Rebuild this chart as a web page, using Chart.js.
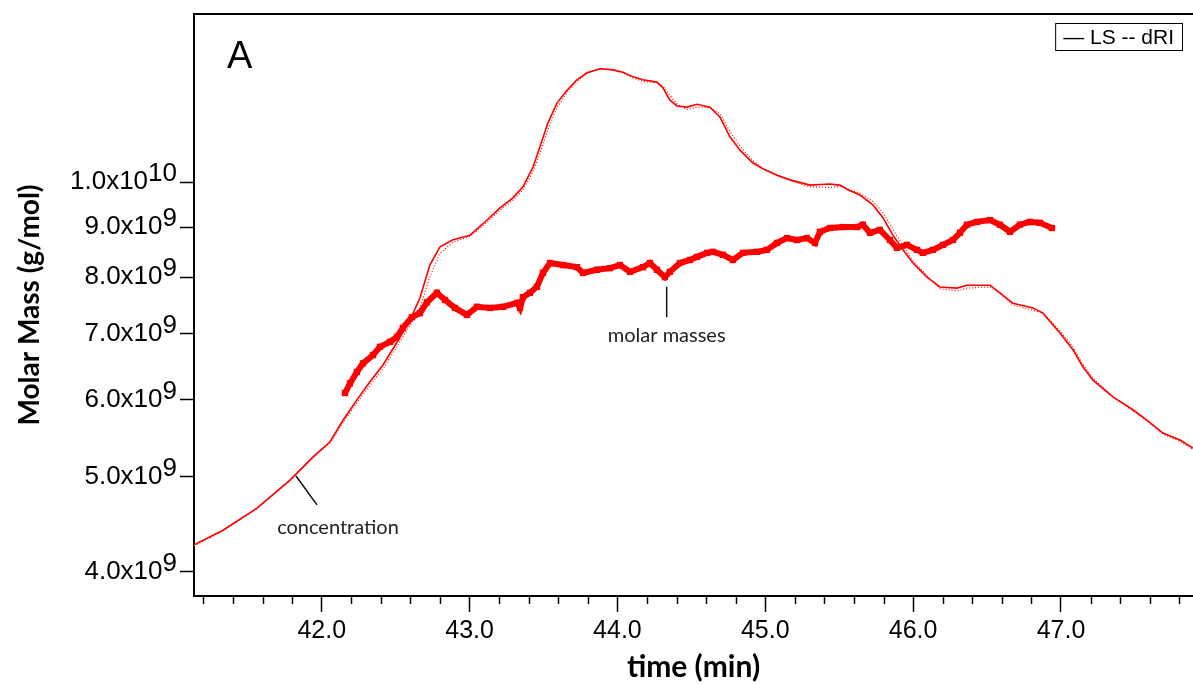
<!DOCTYPE html>
<html>
<head>
<meta charset="utf-8">
<script src="https://cdn.jsdelivr.net/npm/chart.js@4.4.1/dist/chart.umd.min.js"></script>
<style>
  html, body { margin: 0; padding: 0; background: #fff; overflow: hidden; }
  #wrap { width: 1193px; height: 684px; }
</style>
</head>
<body>
<div id="wrap"><canvas id="massChart"></canvas></div>
<script>
// detector traces (relative signal, hidden axis 0-100)
var timeLS = [41.136, 41.332, 41.562, 41.785, 41.941, 42.056, 42.144, 42.238, 42.326, 42.414,
  42.509, 42.597, 42.664, 42.732, 42.800, 42.888, 43.003, 43.118, 43.206, 43.293,
  43.361, 43.429, 43.476, 43.530, 43.591, 43.659, 43.726, 43.794, 43.882, 43.970,
  44.037, 44.105, 44.173, 44.267, 44.308, 44.355, 44.403, 44.470, 44.538, 44.626,
  44.693, 44.761, 44.829, 44.917, 44.984, 45.079, 45.167, 45.302, 45.437, 45.505,
  45.552, 45.640, 45.728, 45.796, 45.863, 45.931, 45.999, 46.094, 46.181, 46.296,
  46.364, 46.520, 46.587, 46.675, 46.810, 46.878, 46.993, 47.081, 47.148, 47.216,
  47.351, 47.487, 47.581, 47.690, 47.805, 47.893];
var ls = [8.8, 11.3, 15.1, 19.9, 23.9, 26.5, 30.2, 33.7, 36.8, 39.7,
  43.6, 47.4, 51.2, 56.9, 60.0, 61.2, 62.0, 64.6, 66.7, 68.4,
  70.3, 73.7, 77.2, 81.3, 84.7, 86.9, 88.7, 89.9, 90.6, 90.4,
  90.0, 89.2, 88.7, 88.3, 87.3, 85.2, 84.2, 84.0, 84.5, 84.0,
  82.3, 78.9, 76.6, 74.4, 73.4, 72.3, 71.5, 70.6, 70.8, 70.6,
  69.9, 68.9, 67.2, 65.0, 62.0, 59.5, 57.2, 54.8, 53.1, 52.9,
  53.4, 53.4, 52.1, 50.3, 49.5, 48.6, 45.2, 42.3, 39.4, 37.1,
  34.2, 32.0, 30.2, 28.0, 26.8, 25.4];
var dri = [8.6, 11.2, 15.0, 19.8, 23.7, 26.3, 29.8, 33.2, 36.2, 39.0,
  42.9, 46.5, 49.6, 54.9, 58.9, 60.8, 61.8, 64.2, 66.3, 68.0,
  69.8, 72.9, 76.0, 80.2, 83.9, 86.5, 88.4, 89.8, 90.6, 90.4,
  89.9, 89.0, 88.4, 88.2, 87.6, 86.0, 84.5, 83.6, 84.0, 83.9,
  82.9, 79.8, 77.3, 74.8, 73.5, 72.3, 71.4, 70.3, 70.2, 70.4,
  70.0, 69.2, 67.8, 65.9, 63.0, 60.2, 57.6, 55.0, 52.8, 52.4,
  52.9, 53.1, 52.0, 50.0, 49.1, 48.6, 45.6, 42.8, 39.8, 37.4,
  34.3, 31.8, 30.1, 27.8, 26.6, 25.2];

// molar masses (g/mol)
var timeMM = [42.157, 42.191, 42.238, 42.279, 42.347, 42.394, 42.462, 42.509, 42.549, 42.610,
  42.664, 42.712, 42.779, 42.834, 42.901, 42.982, 43.050, 43.138, 43.226, 43.321,
  43.341, 43.361, 43.408, 43.456, 43.496, 43.544, 43.632, 43.726, 43.767, 43.862,
  43.949, 44.017, 44.085, 44.173, 44.220, 44.267, 44.321, 44.355, 44.423, 44.491,
  44.538, 44.606, 44.646, 44.714, 44.781, 44.849, 44.944, 45.011, 45.079, 45.147,
  45.214, 45.282, 45.336, 45.370, 45.437, 45.525, 45.620, 45.660, 45.708, 45.775,
  45.843, 45.890, 45.958, 46.026, 46.066, 46.134, 46.202, 46.269, 46.317, 46.364,
  46.432, 46.520, 46.587, 46.655, 46.722, 46.790, 46.858, 46.939];
var molarMass = [6.09e9, 6.23e9, 6.40e9, 6.53e9, 6.66e9, 6.79e9, 6.87e9, 6.95e9, 7.10e9, 7.28e9,
  7.35e9, 7.54e9, 7.71e9, 7.58e9, 7.44e9, 7.32e9, 7.46e9, 7.44e9, 7.46e9, 7.53e9,
  7.44e9, 7.63e9, 7.71e9, 7.82e9, 8.08e9, 8.27e9, 8.23e9, 8.19e9, 8.08e9, 8.14e9,
  8.17e9, 8.23e9, 8.10e9, 8.19e9, 8.27e9, 8.14e9, 8.00e9, 8.10e9, 8.27e9, 8.33e9,
  8.39e9, 8.47e9, 8.49e9, 8.43e9, 8.33e9, 8.47e9, 8.49e9, 8.53e9, 8.67e9, 8.77e9,
  8.73e9, 8.77e9, 8.67e9, 8.90e9, 8.98e9, 9.00e9, 9.00e9, 9.05e9, 8.88e9, 8.94e9,
  8.73e9, 8.57e9, 8.63e9, 8.53e9, 8.47e9, 8.53e9, 8.63e9, 8.73e9, 8.88e9, 9.05e9,
  9.11e9, 9.15e9, 9.05e9, 8.90e9, 9.05e9, 9.11e9, 9.09e9, 8.98e9];

var xTicks = [42, 43, 44, 45, 46, 47];
var yTicks = [4e9, 5e9, 6e9, 7e9, 8e9, 9e9, 1e10];

function toPoints(xs, ys) {
  return xs.map(function (x, i) { return { x: x, y: ys[i] }; });
}

var RED = 'rgb(255, 0, 0)';
var tickFont = '"Liberation Sans", Arial, sans-serif';
var labelFont = 'Lato, "Open Sans", sans-serif';

// axis labels with exponents, frame top, minor ticks, notes
var decorations = {
  id: 'decorations',
  afterDraw: function (chart) {
    var ctx = chart.ctx, area = chart.chartArea;
    var xs = chart.scales.x, ys = chart.scales.y;
    ctx.save();

    ctx.strokeStyle = '#000';
    ctx.lineWidth = 2;
    ctx.beginPath();
    ctx.moveTo(area.left - 1, area.top);
    ctx.lineTo(area.right, area.top);
    ctx.stroke();

    // minor x ticks every 0.2
    ctx.lineWidth = 1.5;
    for (var i = 206; i <= 239; i++) {
      if (i % 5 === 0) continue;
      var px = Math.round(xs.getPixelForValue(i / 5)) + 0.5;
      ctx.beginPath();
      ctx.moveTo(px, area.bottom);
      ctx.lineTo(px, area.bottom + 8);
      ctx.stroke();
    }

    // y tick labels like 9.0x10^9
    ctx.fillStyle = '#000';
    ctx.font = '26px ' + tickFont;
    ctx.textBaseline = 'middle';
    ctx.textAlign = 'right';
    var right = area.left - 17;
    yTicks.forEach(function (v) {
      var py = ys.getPixelForValue(v);
      var exp = Math.floor(Math.log10(v) + 1e-9);
      var mant = (v / Math.pow(10, exp)).toFixed(1);
      var sup = String(exp);
      ctx.fillText(sup, right, py - 8);
      var w = ctx.measureText(sup).width;
      ctx.fillText(mant + 'x10', right - w, py);
    });

    // panel letter
    ctx.textAlign = 'left';
    ctx.textBaseline = 'alphabetic';
    ctx.font = '38px ' + tickFont;
    ctx.fillText('A', area.left + 33, area.top + 54);

    // legend box
    ctx.font = '21px ' + tickFont;
    var legendText = '\u2014 LS -- dRI';
    var lw = ctx.measureText(legendText).width;
    var bx = area.right - 11 - (lw + 16);
    ctx.lineWidth = 1;
    ctx.strokeStyle = '#000';
    ctx.strokeRect(bx + 0.5, area.top + 9.5, lw + 16, 27);
    ctx.fillText(legendText, bx + 8, area.top + 30);

    // callouts
    ctx.strokeStyle = '#111';
    ctx.lineWidth = 1.5;
    ctx.font = '20px ' + labelFont;
    ctx.fillStyle = '#222';
    ctx.textAlign = 'center';
    ctx.textBaseline = 'middle';

    var mx = xs.getPixelForValue(44.333);
    ctx.beginPath();
    ctx.moveTo(mx, ys.getPixelForValue(7.82e9));
    ctx.lineTo(mx, ys.getPixelForValue(7.28e9));
    ctx.stroke();
    ctx.fillText('molar masses', mx, ys.getPixelForValue(6.98e9));

    ctx.beginPath();
    ctx.moveTo(xs.getPixelForValue(41.826), ys.getPixelForValue(5.01e9));
    ctx.lineTo(xs.getPixelForValue(41.968), ys.getPixelForValue(4.68e9));
    ctx.stroke();
    ctx.fillText('concentration', xs.getPixelForValue(42.110), ys.getPixelForValue(4.44e9));

    ctx.restore();
  }
};

var massChart = new Chart(document.getElementById('massChart').getContext('2d'), {
  type: 'line',
  data: {
    datasets: [
      {
        label: 'molar mass',
        data: toPoints(timeMM, molarMass),
        yAxisID: 'y',
        borderColor: RED,
        backgroundColor: RED,
        borderWidth: 6,
        pointStyle: 'rect',
        pointRadius: 4.5,
        pointBorderWidth: 0,
        tension: 0,
        order: 0
      },
      {
        label: 'LS',
        data: toPoints(timeLS, ls),
        yAxisID: 'signal',
        borderColor: RED,
        borderWidth: 1.6,
        pointRadius: 0,
        tension: 0,
        order: 1
      },
      {
        label: 'dRI',
        data: toPoints(timeLS, dri),
        yAxisID: 'signal',
        borderColor: RED,
        borderWidth: 1.2,
        borderDash: [1, 2],
        pointRadius: 0,
        tension: 0,
        order: 2
      }
    ]
  },
  options: {
    responsive: true,
    maintainAspectRatio: false,
    animation: false,
    devicePixelRatio: 1,
    layout: {
      autoPadding: false,
      padding: { top: 14, right: 0, bottom: 0, left: 0 }
    },
    plugins: {
      legend: { display: false },
      tooltip: { enabled: false }
    },
    scales: {
      x: {
        type: 'linear',
        position: 'bottom',
        min: 41.136,
        max: 47.893,
        afterBuildTicks: function (scale) {
          scale.ticks = xTicks.map(function (v) { return { value: v }; });
        },
        afterFit: function (scale) {
          scale.height = 88;
          scale.paddingLeft = 0;
          scale.paddingRight = 0;
        },
        ticks: {
          callback: function (v) { return Number(v).toFixed(1); },
          font: { family: tickFont, size: 25 },
          color: '#000',
          padding: 4,
          maxRotation: 0,
          autoSkip: false
        },
        grid: {
          drawOnChartArea: false,
          drawTicks: true,
          tickLength: 16,
          tickColor: '#000',
          tickWidth: 1.5
        },
        border: { color: '#000', width: 2 },
        title: {
          display: true,
          text: 'time (min)',
          font: { family: labelFont, size: 30, weight: 'bold' },
          color: '#000',
          padding: { top: 0, bottom: -1 }
        }
      },
      y: {
        type: 'logarithmic',
        position: 'left',
        min: 3.777e9,
        max: 1.486e10,
        afterBuildTicks: function (scale) {
          scale.ticks = yTicks.map(function (v) { return { value: v }; });
        },
        afterFit: function (scale) { scale.width = 194; },
        ticks: { display: false },
        grid: {
          drawOnChartArea: false,
          drawTicks: true,
          tickLength: 14,
          tickColor: '#000',
          tickWidth: 1.5
        },
        border: { color: '#000', width: 2 },
        title: {
          display: true,
          text: 'Molar Mass (g/mol)',
          font: { family: labelFont, size: 28, weight: 'bold' },
          color: '#000',
          padding: { top: 13, bottom: 0 }
        }
      },
      signal: {
        type: 'linear',
        display: false,
        min: 0,
        max: 100
      }
    }
  },
  plugins: [decorations]
});
</script>
</body>
</html>
